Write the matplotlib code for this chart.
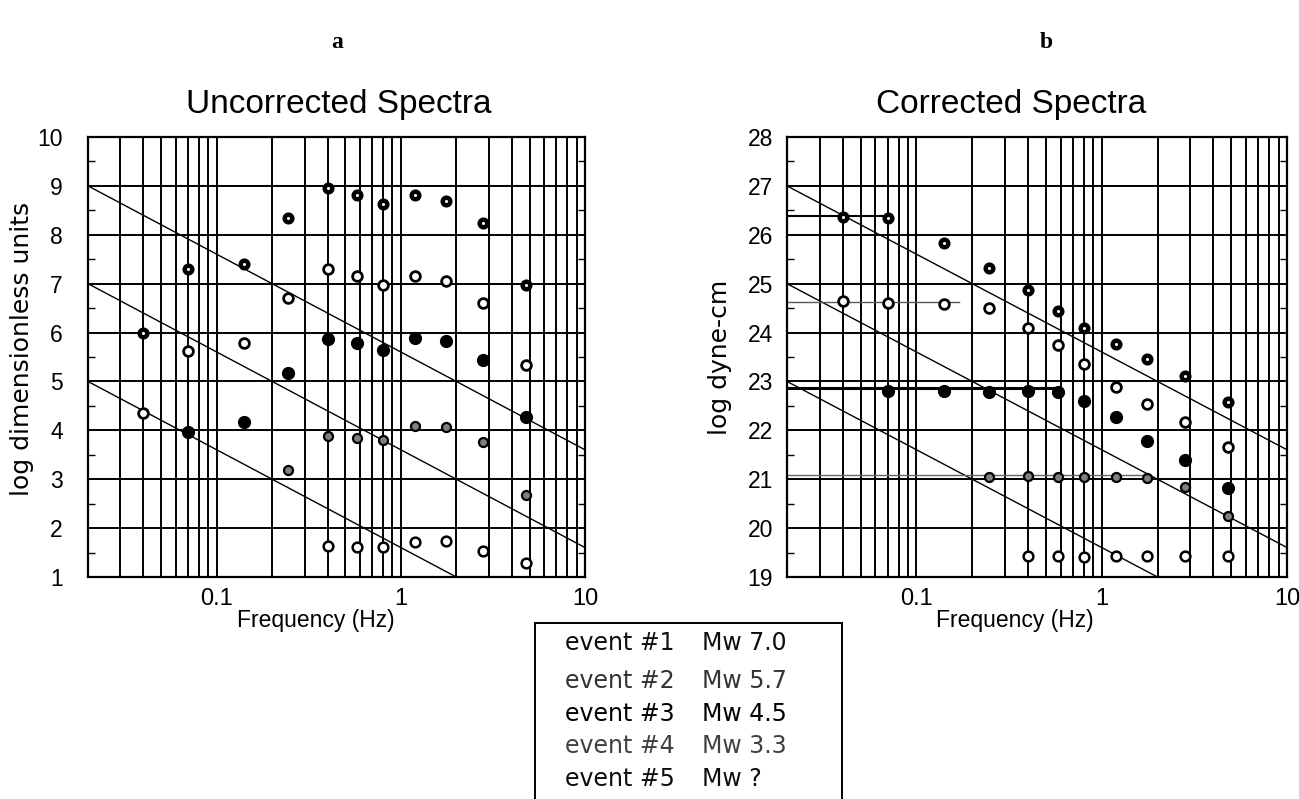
import numpy as np
import matplotlib.pyplot as plt
from matplotlib.ticker import LogLocator, NullFormatter, MultipleLocator
from matplotlib.patches import Rectangle

plt.rcParams['font.family'] = ['Liberation Sans', 'DejaVu Sans']

nan = np.nan
freq = [0.04, 0.07, 0.14, 0.245, 0.4, 0.58, 0.8, 1.2, 1.75, 2.8, 4.8]

# uncorrected spectra (log dimensionless units)
raw_ev1 = [6.0, 7.31, 7.41, 8.35, 8.96, 8.82, 8.63, 8.82, 8.69, 8.24, 6.98]
raw_ev2 = [4.35, 5.63, 5.78, 6.71, 7.31, 7.16, 6.98, 7.16, 7.06, 6.6, 5.33]
raw_ev3 = [nan, 3.96, 4.18, 5.18, 5.86, 5.78, 5.65, 5.88, 5.82, 5.43, 4.27]
raw_ev4 = [nan, nan, nan, 3.18, 3.88, 3.85, 3.8, 4.08, 4.06, 3.77, 2.67]
raw_ev5 = [nan, nan, nan, nan, 1.63, 1.61, 1.61, 1.71, 1.73, 1.53, 1.29]

# corrected spectra (log dyne-cm)
cor_ev1 = [26.36, 26.34, 25.83, 25.32, 24.88, 24.44, 24.09, 23.77, 23.46, 23.11, 22.58]
cor_ev2 = [24.65, 24.6, 24.58, 24.5, 24.1, 23.75, 23.36, 22.89, 22.54, 22.17, 21.66]
cor_ev3 = [nan, 22.81, 22.81, 22.79, 22.8, 22.79, 22.6, 22.27, 21.78, 21.4, 20.82]
cor_ev4 = [nan, nan, nan, 21.05, 21.07, 21.05, 21.05, 21.05, 21.03, 20.84, 20.25]
cor_ev5 = [nan, nan, nan, nan, 19.43, 19.43, 19.41, 19.43, 19.43, 19.43, 19.43]

# low-frequency levels of events 1-4 and where each level line stops (Hz)
plateau_level = [26.38, 24.62, 22.86, 21.08]
plateau_end = [0.07, 0.17, 0.55, 1.75]

# f^-2 reference lines, value at 0.02 Hz
ref_left = [9, 7, 5]
ref_right = [27, 25, 23]

event_names = ['event #1', 'event #2', 'event #3', 'event #4', 'event #5']
mw_names = ['Mw 7.0', 'Mw 5.7', 'Mw 4.5', 'Mw 3.3', 'Mw ?']

styles = [
    dict(marker='o', ms=7.5, mfc='black', mec='black', mew=1.2),
    dict(marker='o', ms=7, mfc='white', mec='black', mew=2.0),
    dict(marker='o', ms=8.5, mfc='black', mec='black', mew=1.0),
    dict(marker='o', ms=6.5, mfc='0.5', mec='black', mew=1.6),
    dict(marker='o', ms=7, mfc='white', mec='black', mew=1.8),
]

W, H = 1299, 799
fig = plt.figure(figsize=(W / 100, H / 100), dpi=100)


def px(x, y):
    return x / W, 1 - y / H


def setup(ax, ylo, yhi, pad):
    ax.set_xscale('log')
    ax.set_xlim(0.02, 10)
    ax.set_ylim(ylo, yhi)
    ax.set_xticks([0.1, 1, 10], labels=['0.1', '1', '10'])
    ax.xaxis.set_minor_locator(LogLocator(base=10, subs=np.arange(2, 10), numticks=20))
    ax.xaxis.set_minor_formatter(NullFormatter())
    ax.yaxis.set_major_locator(MultipleLocator(1))
    ax.yaxis.set_minor_locator(MultipleLocator(0.5))
    ax.grid(which='both', axis='x', color='black', lw=1.4)
    ax.grid(which='major', axis='y', color='black', lw=1.4)
    ax.tick_params(axis='x', which='both', length=0, pad=8, labelsize=17)
    ax.tick_params(axis='y', which='major', length=0, pad=pad, labelsize=16.5)
    ax.tick_params(axis='y', which='minor', direction='in', length=5, width=1,
                   left=True, right=True)
    for s in ax.spines.values():
        s.set_linewidth(1.6)


def ref_lines(ax, levels):
    f = np.logspace(np.log10(0.02), 1, 60)
    for lv in levels:
        ax.plot(f, lv - 2 * np.log10(f / 0.02), color='black', lw=1.0)


ax1 = fig.add_axes([88 / W, 1 - 577 / H, 497 / W, 440 / H])
setup(ax1, 1, 10, 18)
ref_lines(ax1, ref_left)
for ys, st in zip([raw_ev1, raw_ev2, raw_ev3, raw_ev4, raw_ev5], styles):
    ax1.plot(freq, ys, ls='none', **st)
ax1.plot(freq, raw_ev1, ls='none', marker='o', ms=1.2, color='white')

ax2 = fig.add_axes([787 / W, 1 - 577 / H, 500 / W, 440 / H])
setup(ax2, 19, 28, 10)
ref_lines(ax2, ref_right)
plateau_style = [dict(color='black', lw=1.5), dict(color='0.35', lw=1.0),
                 dict(color='black', lw=2.2), dict(color='0.4', lw=1.0)]
for lv, fe, st in zip(plateau_level, plateau_end, plateau_style):
    ax2.plot([0.02, fe], [lv, lv], **st)
for ys, st in zip([cor_ev1, cor_ev2, cor_ev3, cor_ev4, cor_ev5], styles):
    ax2.plot(freq, ys, ls='none', **st)
ax2.plot(freq, cor_ev1, ls='none', marker='o', ms=1.2, color='white')

# titles, axis labels and panel letters
fig.text(*px(339, 104), 'Uncorrected Spectra', fontsize=24, ha='center', va='center')
fig.text(*px(1011, 104), 'Corrected Spectra', fontsize=24, ha='center', va='center')
fig.text(*px(316, 621), 'Frequency (Hz)', fontsize=16.5, ha='center', va='center')
fig.text(*px(1015, 621), 'Frequency (Hz)', fontsize=16.5, ha='center', va='center')
fig.text(*px(22, 349), 'log dimensionless units', fontsize=18, rotation=90,
         family='DejaVu Sans', ha='center', va='center')
fig.text(*px(720, 357), 'log dyne-cm', fontsize=18, rotation=90,
         family='DejaVu Sans', ha='center', va='center')
fig.text(*px(337, 42), 'a', fontsize=17, fontweight='bold',
         family='Liberation Serif', ha='center', va='center')
fig.text(*px(1046, 42), 'b', fontsize=17, fontweight='bold',
         family='Liberation Serif', ha='center', va='center')

# event key box at the bottom
x0, y0 = px(535, 623)
fig.patches.append(Rectangle((x0, -0.05), 307 / W, y0 + 0.05, transform=fig.transFigure,
                             fill=False, edgecolor='black', lw=1.4, clip_on=False))
rows_y = [643, 681, 714, 746, 779]
row_col = ['0.05', '0.2', '0.0', '0.25', '0.05']
for name, mw, ry, c in zip(event_names, mw_names, rows_y, row_col):
    fig.text(*px(565, ry), name, fontsize=17, family='DejaVu Sans', color=c,
             ha='left', va='center')
    fig.text(*px(702, ry), mw, fontsize=17, family='DejaVu Sans', color=c,
             ha='left', va='center')

fig.savefig('out.png', dpi=100)
